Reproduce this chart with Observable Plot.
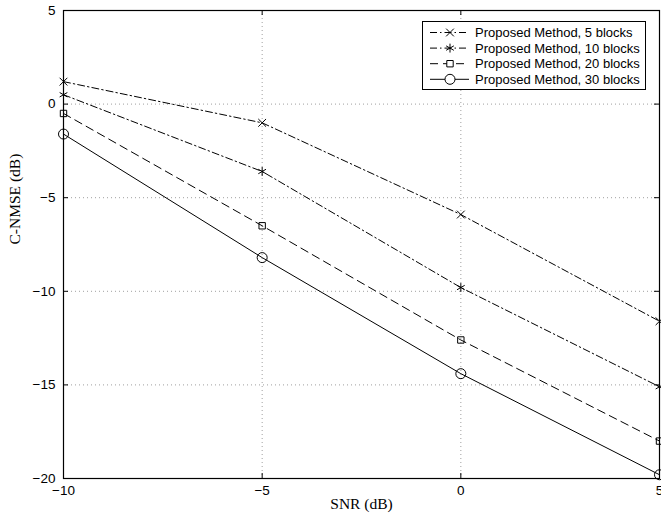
<!DOCTYPE html>
<html><head><meta charset="utf-8">
<script src="https://cdn.jsdelivr.net/npm/d3@7"></script>
<script src="https://cdn.jsdelivr.net/npm/@observablehq/plot@0.6"></script>
<style>
body{margin:0;background:#fff;}
#wrap{position:relative;width:661px;height:517px;overflow:hidden;}
#legend{position:absolute;left:422px;top:21px;width:224px;height:69px;border:1px solid #000;background:#fff;box-sizing:border-box;}
</style></head><body><div id="wrap"></div>
<script>
const snr = [-10, -5, 0, 5];
const blocks5 = [1.2, -1.0, -5.9, -11.6];
const blocks10 = [0.5, -3.6, -9.8, -15.1];
const blocks20 = [-0.5, -6.5, -12.6, -18.0];
const blocks30 = [-1.6, -8.2, -14.4, -19.8];
const seriesNames = ["Proposed Method, 5 blocks", "Proposed Method, 10 blocks", "Proposed Method, 20 blocks", "Proposed Method, 30 blocks"];
const xTicks = [-10, -5, 0, 5];
const yTicks = [-20, -15, -10, -5, 0, 5];

const seriesValues = [blocks5, blocks10, blocks20, blocks30];
const styles = [
  {dash: "7,3,1.5,3", symbol: "times", r: 3.6},
  {dash: "7,3,1.5,3", symbol: "asterisk", r: 4.2},
  {dash: "8,5", symbol: "square", r: 3.6},
  {dash: null, symbol: "circle", r: 5}
];
const rows = [];
seriesValues.forEach((vals, i) => vals.forEach((v, j) => rows.push({s: seriesNames[i], x: snr[j], y: v, i})));

const W = 661, H = 517, mL = 63, mR = 2, mT = 10, mB = 39;
const pw = W - mL - mR, ph = H - mT - mB;
const fmt = d => d < 0 ? "\u2212" + (-d) : String(d);

const marks = [
  Plot.ruleY(yTicks, {y: d => d, stroke: "#888", strokeDasharray: "1,3", strokeWidth: 0.8}),
  Plot.ruleX(xTicks, {x: d => d, stroke: "#888", strokeDasharray: "1,3", strokeWidth: 0.8}),
];
styles.forEach((st, i) => {
  const data = rows.filter(r => r.i === i);
  marks.push(Plot.line(data, {x: "x", y: "y", stroke: "#000", strokeWidth: 1, strokeDasharray: st.dash}));
  marks.push(Plot.dot(data, {x: "x", y: "y", symbol: st.symbol, r: st.r, stroke: "#000", fill: "none", strokeWidth: 1}));
});
marks.push(
  Plot.frame({stroke: "#000", strokeWidth: 1.2}),
  Plot.ruleX(xTicks, {x: d => d, insetTop: ph - 5, stroke: "#000"}),
  Plot.ruleX(xTicks, {x: d => d, insetBottom: ph - 5, stroke: "#000"}),
  Plot.ruleY(yTicks, {y: d => d, insetRight: pw - 5, stroke: "#000"}),
  Plot.ruleY(yTicks, {y: d => d, insetLeft: pw - 5, stroke: "#000"}),
  Plot.axisX(xTicks, {tickSize: 0, tickPadding: 7, tickFormat: fmt, fontSize: 13.5, label: null}),
  Plot.axisY(yTicks, {tickSize: 0, tickPadding: 8, tickFormat: fmt, fontSize: 13.5, label: null}),
  Plot.text(["SNR (dB)"], {frameAnchor: "bottom", dy: 30, fontFamily: "Liberation Serif", fontSize: 15.5, fill: "#000"}),
  Plot.text(["C-NMSE (dB)"], {frameAnchor: "left", dx: -48, rotate: -90, fontFamily: "Liberation Serif", fontSize: 15.5, fill: "#000"})
);

const chart = Plot.plot({
  width: W, height: H,
  marginLeft: mL, marginRight: mR, marginTop: mT, marginBottom: mB,
  x: {domain: [-10, 5]},
  y: {domain: [-20, 5]},
  style: {fontFamily: "Liberation Sans, Arial, sans-serif", color: "#000", background: "#fff", overflow: "visible"},
  marks
});
const wrap = document.getElementById("wrap");
wrap.appendChild(chart);

// legend
const leg = document.createElement("div");
leg.id = "legend";
wrap.appendChild(leg);
const ls = d3.select(leg).append("svg").attr("width", 222).attr("height", 67)
  .style("font-family", "Liberation Sans, Arial, sans-serif").style("font-size", "13px");
const symMap = {times: d3.symbolTimes, asterisk: d3.symbolAsterisk, square: d3.symbolSquare, circle: d3.symbolCircle};
seriesNames.forEach((name, i) => {
  const st = styles[i];
  const yy = 10.5 + i * 15.6;
  const g = ls.append("g");
  g.append("line").attr("x1", 7).attr("x2", 46).attr("y1", yy).attr("y2", yy)
    .attr("stroke", "#000").attr("stroke-width", 1).attr("stroke-dasharray", st.dash);
  const area = Math.PI * st.r * st.r;
  g.append("path").attr("d", d3.symbol(symMap[st.symbol], area)()).attr("transform", `translate(27,${yy})`)
    .attr("fill", "#fff").attr("stroke", "#000");
  g.append("text").attr("x", 52).attr("y", yy).attr("dy", "0.35em").text(name);
});
</script></body></html>
